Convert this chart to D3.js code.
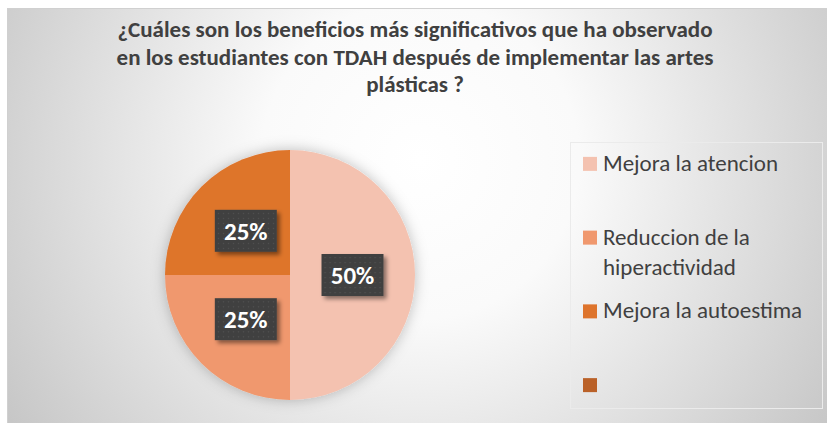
<!DOCTYPE html>
<html>
<head>
<meta charset="utf-8">
<script src="https://cdn.jsdelivr.net/npm/d3@7"></script>
<style>
  body { margin: 0; background: #fff; }
  svg { display: block; }
</style>
</head>
<body>
<div id="grafico"></div>
<script>
// datos
const categorias = ["Mejora la atencion", "Reduccion de la hiperactividad", "Mejora la autoestima", ""];
const valores = [50, 25, 25, 0];
const etiquetas = ["50%", "25%", "25%", ""];
const colores = ["#F4C2B0", "#F0986E", "#DE742C", "#BA6128"];
const titulo = [
  "¿Cuáles son los beneficios más significativos que ha observado",
  "en los estudiantes con TDAH después de implementar las artes",
  "plásticas ?"
];

const width = 827, height = 423;
const fuente = "Calibri, Carlito, Lato, 'Open Sans', sans-serif";

const svg = d3.select("#grafico").append("svg")
  .attr("width", width).attr("height", height);

const defs = svg.append("defs");

// fondo degradado
const grad = defs.append("radialGradient")
  .attr("id", "fondo")
  .attr("gradientUnits", "userSpaceOnUse")
  .attr("cx", 420).attr("cy", 160).attr("r", 530);
grad.append("stop").attr("offset", "0").attr("stop-color", "#ffffff");
grad.append("stop").attr("offset", "0.3").attr("stop-color", "#fafafa");
grad.append("stop").attr("offset", "1").attr("stop-color", "#c0c0c0");

// patron de puntos para etiquetas
const pat = defs.append("pattern")
  .attr("id", "puntos")
  .attr("width", 5).attr("height", 5)
  .attr("patternUnits", "userSpaceOnUse");
pat.append("rect").attr("width", 5).attr("height", 5).attr("fill", "#404040");
pat.append("rect").attr("x", 2).attr("y", 2).attr("width", 1.2).attr("height", 1.2).attr("fill", "#555");

const sombra = defs.append("filter").attr("id", "sombra")
  .attr("x", "-30%").attr("y", "-30%").attr("width", "160%").attr("height", "160%");
sombra.append("feDropShadow").attr("dx", 3).attr("dy", 3).attr("stdDeviation", 2)
  .attr("flood-color", "#000").attr("flood-opacity", 0.45);

const halo = defs.append("filter").attr("id", "halo")
  .attr("x", "-20%").attr("y", "-20%").attr("width", "140%").attr("height", "140%");
halo.append("feDropShadow").attr("dx", 0).attr("dy", 0).attr("stdDeviation", 7)
  .attr("flood-color", "#000").attr("flood-opacity", 0.25);

svg.append("rect")
  .attr("x", 7.5).attr("y", 8.5)
  .attr("width", width - 7).attr("height", height - 8)
  .attr("fill", "url(#fondo)")
  .attr("stroke", "#d0d0d0");

// ajustar texto al ancho deseado
function ajustar(sel, ancho) {
  sel.each(function () {
    const l = this.getComputedTextLength();
    if (l > ancho) {
      d3.select(this).attr("textLength", ancho).attr("lengthAdjust", "spacingAndGlyphs");
    }
  });
}

// titulo
const anchosTitulo = [606, 601, 112];
svg.append("g").selectAll("text")
  .data(titulo)
  .join("text")
  .attr("x", 415)
  .attr("y", (d, i) => 37 + i * 27.5)
  .attr("text-anchor", "middle")
  .attr("font-family", fuente)
  .attr("font-weight", "bold")
  .attr("font-size", 23)
  .attr("fill", "#404040")
  .text(d => d)
  .each(function (d, i) { ajustar(d3.select(this), anchosTitulo[i]); });

// pastel
const cx = 290, cy = 275, r = 125;
const pie = d3.pie().sort(null).value(d => d.valor);
const datos = categorias.map((c, i) => ({ cat: c, valor: valores[i], etiqueta: etiquetas[i], color: colores[i] }));
const arcs = pie(datos);
const arco = d3.arc().innerRadius(0).outerRadius(r);

const gPie = svg.append("g").attr("transform", `translate(${cx},${cy})`);
gPie.append("g").attr("filter", "url(#halo)")
  .selectAll("path")
  .data(arcs.filter(d => d.data.valor > 0))
  .join("path")
  .attr("d", arco)
  .attr("fill", d => d.data.color);

// etiquetas de datos
const bw = 62, bh = 42;
const gEt = gPie.selectAll("g.et")
  .data(arcs.filter(d => d.data.valor > 0))
  .join("g")
  .attr("class", "et")
  .attr("transform", d => {
    const [x, y] = arco.centroid(d);
    return `translate(${x},${y})`;
  });
gEt.append("rect")
  .attr("x", -bw / 2).attr("y", -bh / 2)
  .attr("width", bw).attr("height", bh)
  .attr("fill", "url(#puntos)")
  .attr("filter", "url(#sombra)");
gEt.append("text")
  .attr("text-anchor", "middle")
  .attr("dy", "0.36em")
  .attr("font-family", fuente)
  .attr("font-weight", "bold")
  .attr("font-size", 25)
  .attr("fill", "#fff")
  .text(d => d.data.etiqueta);

// leyenda
svg.append("rect")
  .attr("x", 570.5).attr("y", 142.5)
  .attr("width", 252).attr("height", 266)
  .attr("fill", "none")
  .attr("stroke", "#ebebeb");

const legY = d3.scaleBand().domain(d3.range(categorias.length)).range([127, 422]);
const lineas = [["Mejora la atencion"], ["Reduccion de la", "hiperactividad"], ["Mejora la autoestima"], [""]];

const leg = svg.append("g").selectAll("g")
  .data(datos)
  .join("g")
  .attr("transform", (d, i) => `translate(583,${legY(i) + legY.bandwidth() / 2})`);
leg.append("rect")
  .attr("y", -7).attr("width", 14).attr("height", 14)
  .attr("fill", d => d.color);
leg.each(function (d, i) {
  const t = d3.select(this).append("text")
    .attr("x", 20)
    .attr("font-family", fuente)
    .attr("font-size", 23)
    .attr("fill", "#404040");
  t.selectAll("tspan")
    .data(lineas[i])
    .join("tspan")
    .attr("x", 20)
    .attr("y", (l, j) => 7 + j * 30)
    .text(l => l);
});
</script>
</body>
</html>
